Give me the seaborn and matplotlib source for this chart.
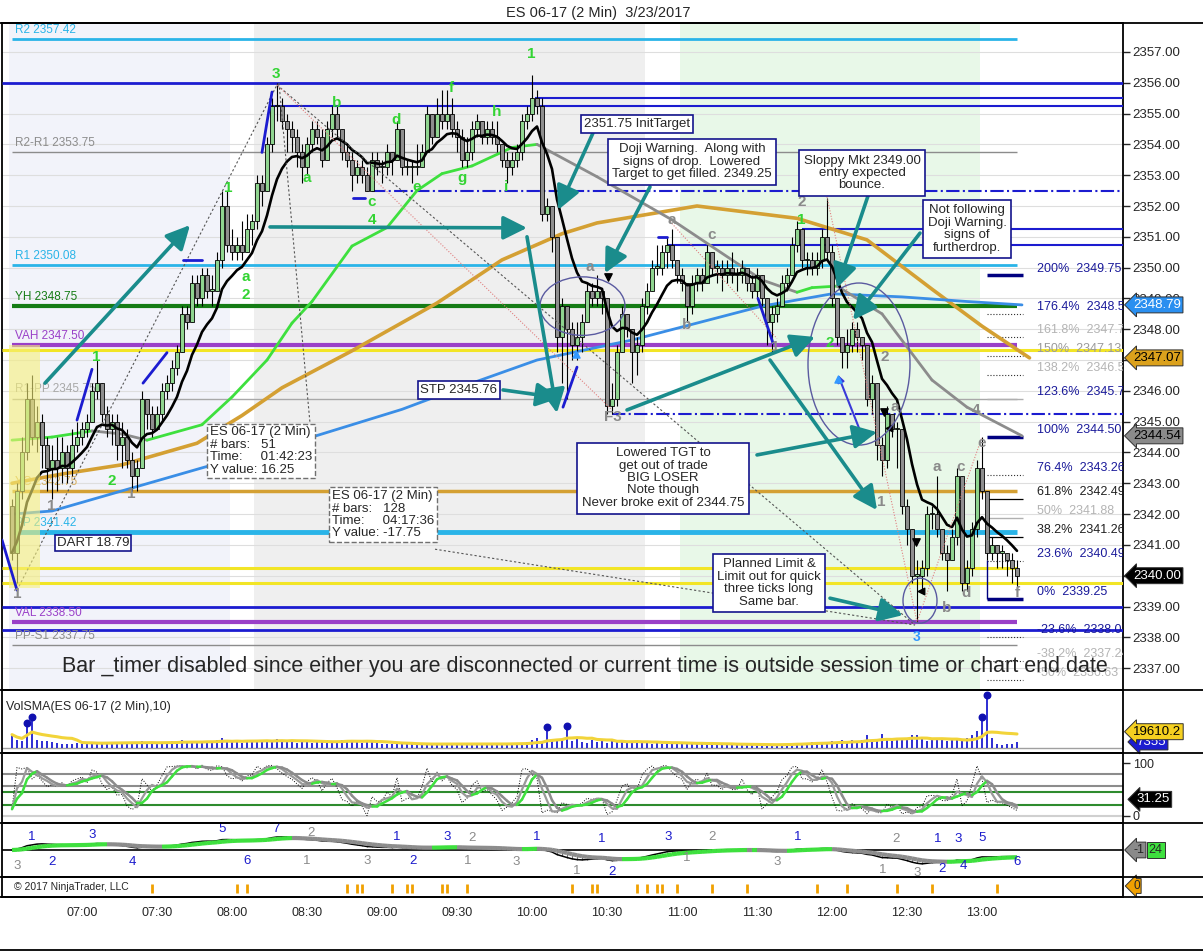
import numpy as np
import pandas as pd
import matplotlib
matplotlib.use("Agg")
import matplotlib.pyplot as plt
import seaborn as sns
from matplotlib.patches import Ellipse, Rectangle
from matplotlib.lines import Line2D

sns.set_style("white")
plt.rcParams["font.family"] = ["Liberation Sans", "DejaVu Sans"]

# ES 06-17, 2 minute bars, first bar 06:32
session_start = "06:32"
first_open = 2342.25
closes = [
    2340.75, 2342.75, 2344.0, 2345.75, 2344.5, 2345.0, 2344.25, 2343.5, 2343.75, 2343.5, 2344.0, 2343.5, 2344.25, 2344.5,
    2344.75, 2345.0, 2346.0, 2346.25, 2345.25, 2344.75, 2345.0, 2344.25, 2344.5, 2343.75, 2343.25, 2343.5, 2345.75, 2345.25, 2344.75,
    2345.25, 2346.0, 2346.25, 2346.75, 2347.25, 2348.5, 2348.25, 2349.5, 2349.0, 2349.75, 2349.25, 2349.25, 2350.25, 2352.0, 2350.75,
    2350.5, 2350.75, 2350.5, 2351.25, 2351.5, 2352.75, 2352.5, 2354.0, 2355.25, 2355.25, 2354.75, 2354.5, 2354.25, 2353.75, 2353.25,
    2354.0, 2354.5, 2354.25, 2353.5, 2354.5, 2355.0, 2354.5, 2353.75, 2353.5, 2353.0, 2353.25, 2353.0, 2352.5, 2353.5, 2353.25,
    2353.25, 2353.75, 2353.5, 2354.5, 2353.25, 2353.25, 2353.25, 2353.25, 2353.75, 2355.0, 2354.25, 2355.0, 2354.75, 2355.0, 2354.5,
    2354.25, 2353.5, 2353.75, 2354.5, 2354.75, 2354.25, 2354.5, 2354.25, 2354.0, 2353.5, 2353.25, 2353.5, 2353.75, 2354.75, 2355.0,
    2355.5, 2355.25, 2351.75, 2352.0, 2351.0, 2347.75, 2348.75, 2348.0, 2347.5, 2347.75, 2348.25, 2349.25, 2349.0, 2349.25, 2349.0,
    2345.5, 2345.75, 2347.25, 2348.5, 2348.0, 2347.25, 2347.5, 2348.75, 2349.25, 2350.0, 2350.0, 2350.5, 2350.75, 2350.25, 2349.75,
    2349.5, 2348.75, 2349.5, 2349.75, 2349.5, 2350.5, 2350.0, 2350.0, 2349.75, 2350.0, 2349.75, 2349.75, 2350.0, 2349.5, 2349.25,
    2349.75, 2349.0, 2348.25, 2348.5, 2348.75, 2349.5, 2349.75, 2350.75, 2351.25, 2350.25, 2350.25, 2350.0, 2350.25, 2351.0, 2350.5,
    2349.0, 2347.75, 2347.25, 2347.5, 2348.0, 2347.75, 2347.5, 2345.75, 2346.25, 2344.25, 2343.75, 2345.25, 2344.75, 2344.75, 2342.25,
    2341.5, 2340.0, 2340.0, 2340.25, 2342.0, 2342.0, 2341.5, 2340.75, 2340.5, 2341.25, 2343.25, 2339.75, 2340.25, 2341.5, 2343.5,
    2342.75, 2340.75, 2341.0, 2340.75, 2340.75, 2340.5, 2340.25, 2340.0,
]
highs = [
    2342.5, 2343.0, 2344.5, 2346.25, 2346.5, 2345.5, 2345.25, 2344.5, 2344.25, 2344.5, 2344.5, 2344.25, 2344.75, 2345.0,
    2345.0, 2345.25, 2346.25, 2347.0, 2346.25, 2345.5, 2345.25, 2345.25, 2345.0, 2344.75, 2344.0, 2343.75, 2346.0, 2345.75, 2345.5,
    2345.5, 2346.25, 2346.5, 2347.0, 2347.5, 2348.75, 2348.75, 2349.75, 2349.75, 2350.0, 2350.0, 2349.75, 2350.5, 2352.5, 2352.5,
    2351.25, 2351.0, 2351.5, 2351.75, 2351.75, 2353.0, 2353.0, 2354.25, 2355.5, 2356.0, 2355.5, 2355.0, 2354.75, 2354.5, 2354.0,
    2354.25, 2354.75, 2354.75, 2354.5, 2354.75, 2355.25, 2355.25, 2354.5, 2354.0, 2353.75, 2353.5, 2353.5, 2353.25, 2353.75, 2353.75,
    2353.5, 2354.0, 2353.75, 2354.75, 2354.5, 2353.5, 2353.5, 2354.0, 2354.0, 2355.25, 2355.0, 2355.5, 2355.75, 2355.75, 2355.5,
    2354.75, 2354.5, 2354.25, 2354.75, 2355.0, 2354.75, 2354.75, 2354.75, 2354.75, 2354.0, 2353.75, 2353.75, 2354.0, 2355.0, 2355.25,
    2356.25, 2355.75, 2355.5, 2352.25, 2352.0, 2351.0, 2349.0, 2348.75, 2348.25, 2348.25, 2348.5, 2349.5, 2349.5, 2349.75, 2349.25,
    2349.0, 2346.25, 2347.5, 2348.75, 2348.5, 2348.0, 2347.75, 2349.0, 2349.5, 2350.25, 2350.75, 2350.75, 2351.0, 2351.25, 2350.25,
    2350.0, 2349.5, 2349.75, 2350.0, 2350.0, 2350.75, 2350.5, 2350.25, 2350.25, 2350.25, 2350.5, 2350.0, 2350.25, 2350.0, 2349.75,
    2350.0, 2349.75, 2349.0, 2348.75, 2349.0, 2349.75, 2350.0, 2351.0, 2351.5, 2351.25, 2350.5, 2350.5, 2350.5, 2351.25, 2352.25,
    2350.75, 2349.0, 2347.75, 2348.0, 2348.25, 2348.25, 2347.75, 2347.5, 2346.5, 2346.25, 2344.5, 2345.5, 2345.25, 2345.0, 2344.75,
    2342.5, 2341.5, 2340.5, 2340.5, 2342.25, 2342.25, 2343.25, 2341.5, 2341.0, 2341.5, 2343.5, 2343.25, 2340.5, 2341.75, 2343.75,
    2344.5, 2342.75, 2341.25, 2341.0, 2341.0, 2340.75, 2340.75, 2340.5,
]
lows = [
    2340.5, 2339.75, 2342.5, 2343.75, 2344.25, 2344.0, 2343.5, 2342.75, 2342.5, 2342.75, 2343.0, 2343.0, 2343.25, 2344.0,
    2344.25, 2344.5, 2345.0, 2345.75, 2345.0, 2344.5, 2344.25, 2343.75, 2343.5, 2343.5, 2342.75, 2342.75, 2343.5, 2344.75, 2344.5,
    2344.75, 2345.0, 2345.75, 2346.0, 2346.5, 2347.25, 2348.0, 2348.25, 2348.75, 2348.75, 2349.0, 2348.75, 2349.25, 2350.0, 2350.5,
    2350.25, 2350.25, 2350.25, 2350.5, 2350.75, 2351.25, 2352.0, 2352.5, 2353.75, 2354.75, 2354.5, 2353.75, 2353.75, 2353.25, 2352.75,
    2353.0, 2353.75, 2354.0, 2353.25, 2353.5, 2354.25, 2354.25, 2353.5, 2353.25, 2352.5, 2352.75, 2352.75, 2352.5, 2352.5, 2353.0,
    2352.75, 2353.0, 2353.0, 2353.5, 2353.0, 2353.0, 2352.75, 2353.0, 2353.25, 2353.75, 2354.0, 2354.25, 2354.5, 2354.5, 2354.25,
    2353.75, 2353.25, 2353.25, 2353.5, 2354.25, 2354.0, 2354.0, 2354.0, 2353.75, 2353.25, 2352.75, 2353.0, 2353.25, 2353.5, 2354.5,
    2354.75, 2355.0, 2351.5, 2351.5, 2350.5, 2347.25, 2346.25, 2345.75, 2347.0, 2347.0, 2347.25, 2348.25, 2348.75, 2348.75, 2348.5,
    2345.25, 2345.25, 2345.5, 2347.25, 2347.75, 2346.25, 2346.5, 2347.25, 2348.5, 2349.25, 2349.75, 2349.75, 2350.0, 2350.0, 2349.5,
    2349.25, 2348.25, 2348.5, 2349.25, 2349.25, 2349.5, 2349.75, 2349.5, 2349.25, 2349.5, 2349.5, 2349.25, 2349.5, 2349.25, 2349.0,
    2349.0, 2348.75, 2347.5, 2347.25, 2348.25, 2348.75, 2349.25, 2349.75, 2350.5, 2350.0, 2349.75, 2349.75, 2349.75, 2350.0, 2350.25,
    2348.75, 2347.5, 2346.75, 2346.75, 2347.25, 2347.25, 2347.0, 2345.5, 2345.25, 2343.75, 2343.25, 2343.5, 2344.5, 2343.5, 2342.0,
    2341.0, 2339.75, 2338.5, 2339.5, 2340.0, 2341.5, 2341.25, 2340.5, 2339.5, 2340.5, 2341.0, 2339.5, 2339.5, 2340.0, 2341.25,
    2342.5, 2340.5, 2340.5, 2340.25, 2340.25, 2340.0, 2339.75, 2339.5,
]
# volume per bar, thousands of contracts
volumes = [
    16, 10, 8, 27, 35,
    9, 8, 8, 7, 6, 5, 4, 5, 6, 5,
    6, 7, 5, 6, 7, 5, 6, 6, 7, 5, 6, 8, 5, 7, 5,
    6, 7, 8, 6, 9, 7, 8, 6, 7, 8, 6, 9, 12, 8, 7,
    9, 6, 8, 7, 9, 8, 10, 9, 11, 8, 7, 9, 6, 7, 8,
    6, 7, 8, 9, 6, 8, 9, 10, 8, 7, 6, 8, 7, 6, 5,
    5, 4, 5, 4, 5, 4, 4, 5, 4, 4, 5, 4, 4, 5, 4,
    4, 5, 4, 5, 4, 5, 5, 4, 5, 4, 5, 5, 6, 7, 9,
    12, 8, 22, 11, 10, 9, 23, 8, 11, 7, 6, 9, 7, 8, 6,
    9, 7, 8, 6, 7, 8, 6, 7, 5, 6, 5, 6, 5, 6, 5,
    6, 5, 4, 5, 4, 5, 4, 4, 5, 4, 3, 4, 3, 4, 3,
    4, 3, 4, 4, 5, 4, 5, 6, 5, 6, 7, 6, 5, 6, 8,
    7, 9, 6, 10, 8, 9, 16, 8, 9, 17, 10, 8, 11, 12, 9,
    16, 15, 11, 8, 9, 10, 9, 8, 10, 9, 8, 12, 15, 20, 35,
    62, 12, 5, 3, 4, 5, 7,
]

# longer moving averages: (bar index, price)
ma_green_k = [0, 8, 16, 22, 27, 38, 44, 51, 56, 60, 68, 75, 81, 86, 92, 100, 105, 117, 132, 150, 157, 160, 165, 174, 184, 191, 202]
ma_green_v = [2344.4, 2344.5, 2344.7, 2344.6, 2344.4, 2344.9, 2345.8, 2347.0, 2348.2, 2348.9, 2350.7, 2351.3, 2352.5, 2353.05,
              2353.3, 2353.9, 2354.0, 2352.95, 2351.55, 2349.6, 2349.2, 2349.35, 2349.4, 2348.5, 2346.35, 2345.47, 2344.54]
ma_orange_k = [0, 10, 22, 37, 46, 54, 68, 85, 98, 110, 117, 137, 157, 171, 184, 194, 203.5]
ma_orange_v = [2343.0, 2343.3, 2343.6, 2344.3, 2345.2, 2346.1, 2347.3, 2348.85, 2350.25, 2351.1, 2351.45, 2352.0, 2351.6,
               2350.9, 2349.3, 2348.1, 2347.07]
ma_blue_k = [0, 8, 23, 38, 60, 78, 92, 105, 124, 137, 150, 164, 178, 191, 202]
ma_blue_v = [2342.0, 2342.1, 2342.8, 2343.5, 2344.5, 2345.4, 2346.25, 2347.0, 2347.65, 2348.2, 2348.75, 2349.15, 2349.05,
             2348.9, 2348.79]

# labelled pivot / value-area levels
lvl_price = [2357.42, 2353.75, 2350.08, 2348.75, 2347.50, 2345.75, 2342.75, 2341.42, 2338.50, 2337.75]
lvl_label = ["R2 2357.42", "R2-R1 2353.75", "R1 2350.08", "YH 2348.75", "VAH 2347.50", "R1-PP 2345.75",
             "YC 2342.75", "PP 2341.42", "VAL 2338.50", "PP-S1 2337.75"]
lvl_color = ["#2ab4e8", "#8c8c8c", "#2ab4e8", "#157c15", "#9a40c8", "#a8a8a8", "#d4a033", "#2ab4e8", "#9a40c8", "#8c8c8c"]
lvl_text_color = ["#2ab4e8", "#8c8c8c", "#2ab4e8", "#157c15", "#9a40c8", "#a8a8a8", "#d8b060", "#2ab4e8", "#9a40c8", "#8c8c8c"]
lvl_width = [2, 1, 2, 3, 3, 1, 2.5, 3.5, 3, 1]

# blue drawn lines (price, first bar, style)
blue_price = [2356.0, 2355.5, 2355.25, 2352.5, 2351.25, 2350.75, 2345.25, 2339.0, 2338.25]
blue_start = [-2, 104.5, 51.6, 72, 158, 131, 120, -2, -2]
blue_style = ["-", "-", "-", "-.", "-", "-", "-.", "-", "-"]
blue_width = [2, 1.5, 1.5, 1.5, 1.5, 1.5, 1.5, 2, 2]

yellow_price = [2347.33, 2340.25, 2339.75]
yellow_end = [222.2, 201, 222.2]

# fibonacci extension from 2339.25 to 2344.50
fib_pct = ["200%", "176.4%", "161.8%", "150%", "138.2%", "123.6%", "100%", "76.4%", "61.8%", "50%",
           "38.2%", "23.6%", "0%", "-23.6%", "-38.2%", "-50%"]
fib_val = [2349.75, 2348.51, 2347.74, 2347.13, 2346.51, 2345.74, 2344.50, 2343.26, 2342.49, 2341.88,
           2341.26, 2340.49, 2339.25, 2338.01, 2337.24, 2336.63]
fib_color = ["#1a1a9a", "#1a1a9a", "#b4b4b4", "#9a9a9a", "#b4b4b4", "#1a1a9a", "#1a1a9a", "#1a1a9a", "#202020", "#b4b4b4",
             "#202020", "#1a1a9a", "#1a1a9a", "#1a1a9a", "#b4b4b4", "#b4b4b4"]
fib_line = ["thick", ":", ":", ":", ":", "-", "thick", ":", "k", "-", "k", ":", "thick", ":", ":", ":"]

# wave labels on the price panel: (bar, price, text)
green_lbl = [(52.8, 2356.3, "3"), (43.2, 2352.6, "1"), (46.8, 2349.7, "a"), (46.8, 2349.1, "2"), (16.8, 2347.1, "1"),
             (20, 2343.07, "2"), (58.9, 2352.9, "a"), (64.9, 2355.33, "b"), (71.9, 2352.14, "c"), (71.9, 2351.55, "4"),
             (76.9, 2354.79, "d"), (80.9, 2352.63, "e"), (87.9, 2355.82, "f"), (89.9, 2352.9, "g"), (96.9, 2355.06, "h"),
             (98.9, 2352.63, "i"), (103.9, 2356.95, "1"), (157.9, 2351.55, "1"), (163.6, 2347.55, "2")]
gray_lbl = [(1, 2339.4, "1"), (7.9, 2342.26, "1"), (23.9, 2342.66, "1"), (115.6, 2350.03, "a"), (120.2, 2345.16, "F3"),
            (131.9, 2351.55, "a"), (139.9, 2351.06, "c"), (134.9, 2348.14, "b"), (157.9, 2352.14, "2"), (152.6, 2347.43, "1"),
            (174.6, 2347.1, "2"), (176.6, 2345.48, "a"), (192.8, 2345.38, "4"), (173.9, 2342.4, "1"), (184.9, 2343.54, "a"),
            (189.8, 2343.54, "c"), (193.9, 2344.3, "e"), (190.9, 2339.43, "d"), (186.9, 2338.94, "b"), (201, 2339.43, "f")]

# wave counts on the macd panel: (bar, height in panel, text, is_blue)
macd_lbl = [(4, 0.75, "1", 1), (16, 0.77, "3", 1), (42, 0.88, "5", 1), (52.8, 0.88, "7", 1), (59.8, 0.82, "2", 0),
            (77, 0.75, "1", 1), (87, 0.75, "3", 1), (92, 0.72, "2", 0), (105, 0.75, "1", 1), (118, 0.70, "1", 1),
            (131.2, 0.75, "3", 1), (140, 0.75, "2", 0), (157.2, 0.75, "1", 1), (176.8, 0.70, "2", 0), (185.2, 0.70, "1", 1),
            (189.2, 0.70, "3", 1), (194, 0.72, "5", 1),
            (1, 0.2, "3", 0), (8, 0.27, "2", 1), (24, 0.27, "4", 1), (47, 0.3, "6", 1), (59, 0.3, "1", 0), (71, 0.3, "3", 0),
            (80.2, 0.3, "2", 1), (91.2, 0.3, "1", 0), (100.8, 0.27, "3", 0), (113, 0.12, "1", 0), (120, 0.1, "2", 1),
            (135, 0.35, "1", 0), (153, 0.27, "3", 0), (174.2, 0.13, "1", 0), (181, 0.08, "3", 0), (186, 0.14, "2", 1),
            (190.2, 0.2, "4", 1), (201, 0.28, "6", 1)]

# trade markers in the bottom strip (bar index)
marks_k = [28, 45, 47, 67, 69, 70, 76, 79, 80, 86, 87, 91, 112, 116, 117, 125, 127, 129, 130, 133, 140, 147, 161, 167, 177, 184, 197]

time_labels = ["07:00", "07:30", "08:00", "08:30", "09:00", "09:30", "10:00", "10:30", "11:00", "11:30", "12:00", "12:30", "13:00"]

# ---------------------------------------------------------------
W, H = 1203, 952
XMIN, XMAX = -2, 222.2
UP, DOWN = "#8fd48f", "#8e8e8e"
TEAL, NAVY = "#1a8c8c", "#1c1cd0"


def rect(x0, y0, x1, y1):
    return [x0 / W, 1 - y1 / H, (x1 - x0) / W, (y1 - y0) / H]


def to_min(s):
    h, m = s.split(":")
    return int(h) * 60 + int(m)


n = len(closes)
df = pd.DataFrame({"k": np.arange(n), "open": [first_open] + closes[:-1], "high": highs, "low": lows,
                   "close": closes, "vol": volumes})
df["ema"] = df.close.ewm(span=10, adjust=False).mean()

fig = plt.figure(figsize=(W / 100, H / 100), dpi=100)
ax = fig.add_axes(rect(2, 23, 1123, 690))
ax_vol = fig.add_axes(rect(2, 690, 1123, 753))
ax_sto = fig.add_axes(rect(2, 753, 1123, 823))
ax_macd = fig.add_axes(rect(2, 823, 1123, 877))
ax_mk = fig.add_axes(rect(2, 877, 1123, 897))
for a in (ax, ax_vol, ax_sto, ax_macd, ax_mk):
    a.set_xlim(XMIN, XMAX)
    a.set_xticks([])
    a.set_yticks([])
    for s in a.spines.values():
        s.set_color("black")
        s.set_linewidth(1.3)

fig.text(598 / W, 1 - 13 / H, "ES 06-17 (2 Min)  3/23/2017", ha="center", va="center", fontsize=10.5)

# ---------------- price panel ----------------
ax.set_ylim(2336.29, 2357.94)
ax.axvspan(-0.6, 43.6, color="#f2f3fa", zorder=0, lw=0)
ax.axvspan(48.4, 126.6, color="#efefef", zorder=0, lw=0)
ax.axvspan(133.6, 193.6, color="#e8f8e8", zorder=0, lw=0)
for p in range(2337, 2358):
    ax.axhline(p, color="#dedede", lw=0.8, zorder=1)

for p, lab, c, tc, lw in zip(lvl_price, lvl_label, lvl_color, lvl_text_color, lvl_width):
    ax.hlines(p, 0, 201, color=c, lw=lw, zorder=6)
    ax.text(0.6, p + 0.1, lab, color=tc, fontsize=8.5, va="bottom", ha="left", zorder=6.5, clip_on=True)
for p, k0, ls, lw in zip(blue_price, blue_start, blue_style, blue_width):
    ax.hlines(p, k0, XMAX, color=NAVY, lw=lw, linestyles=ls, zorder=6)
for p, k1 in zip(yellow_price, yellow_end):
    ax.hlines(p, XMIN, k1, color="#f2e526", lw=2.2, zorder=6)

# fib block on the right
for pct, v, c, st in zip(fib_pct, fib_val, fib_color, fib_line):
    if st == "thick":
        ax.hlines(v, 195, 202.2, color="#000080", lw=2.5, zorder=6)
    elif st == "k":
        ax.hlines(v, 195, 202.2, color="black", lw=0.9, zorder=6)
    elif st == "-":
        ax.hlines(v, 195, 202.2, color="#b0b0b0", lw=1, zorder=6)
    else:
        ax.hlines(v, 195, 202.2, color="#303030", lw=0.8, linestyles=":", zorder=6)
    ax.text(205, v + 0.22, f"{pct}  {v:.2f}", color=c, fontsize=9, va="center", ha="left", clip_on=True, zorder=6)
ax.vlines(195, 2339.25, 2340.5, color="#000080", lw=1, zorder=6)

# moving averages
ax.plot(ma_orange_k, ma_orange_v, color="#d4a033", lw=2.6, zorder=6.5, solid_capstyle="round")
ax.plot(ma_blue_k, ma_blue_v, color="#3a8ee6", lw=2, zorder=6.5)
for i in range(len(ma_green_k) - 1):
    c = "#3ee03e" if ma_green_v[i + 1] >= ma_green_v[i] else "#8c8c8c"
    ax.plot(ma_green_k[i:i + 2], ma_green_v[i:i + 2], color=c, lw=2, zorder=6.5, solid_capstyle="round")

# candles
up = df.close >= df.open
body = (df.close - df.open).abs().clip(lower=0.04)
ax.vlines(df.k, df.low, df.high, color="black", lw=0.8, zorder=7)
ax.bar(df.k[up], body[up], bottom=df.open[up], width=0.72, color=UP, edgecolor="black", lw=0.6, zorder=7.5)
ax.bar(df.k[~up], body[~up], bottom=df.close[~up], width=0.72, color=DOWN, edgecolor="black", lw=0.6, zorder=7.5)
sns.lineplot(data=df, x="k", y="ema", ax=ax, color="black", lw=1.9, zorder=8)
ax.set_xlabel("")
ax.set_ylabel("")

# opening range highlight
ax.add_patch(Rectangle((-0.6, 2339.6), 6.2, 7.9, color="#f6f07a", alpha=0.6, lw=0, zorder=8.5))

# zigzag / drawing lines
ax.plot([1, 53], [2339.53, 2355.93], color="#555555", lw=0.8, ls=(0, (2, 2)), zorder=8)
ax.plot([53.4, 59.6], [2355.99, 2344.95], color="#555555", lw=0.8, ls=(0, (2, 2)), zorder=8)
ax.plot([53, 180.6], [2355.93, 2338.4], color="#555555", lw=0.8, ls=(0, (2, 2)), zorder=8)
ax.plot([84.6, 180.6], [2340.86, 2338.4], color="#555555", lw=0.8, ls=(0, (2, 2)), zorder=8)
ax.plot([53, 120], [2355.93, 2345.38], color="#e08080", lw=0.8, ls=(0, (1, 1.5)), zorder=8)
ax.plot([131.6, 153], [2351.5, 2347.7], color="#e08080", lw=0.8, ls=(0, (1, 1.5)), zorder=8)
ax.plot([163, 181, 194], [2352.3, 2338.5, 2344.5], color="#e08080", lw=0.8, ls=(0, (1, 1.5)), zorder=8)

# short blue trend strokes
for (a0, p0, a1, p1) in [(-2, 2341.16, 1, 2339.53), (13, 2345.05, 16, 2346.7), (26.2, 2346.25, 31, 2347.24),
                         (50, 2353.74, 52, 2355.7), (34.2, 2350.26, 38, 2350.26), (68.2, 2352.26, 70.6, 2352.26),
                         (113, 2346.77, 110.2, 2345.47), (149.2, 2349.0, 152.2, 2347.55), (129.2, 2351.0, 131, 2351.0)]:
    ax.plot([a0, a1], [p0, p1], color=NAVY, lw=2, zorder=8.6)
ax.annotate("", xy=(165, 2346.6), xytext=(170.6, 2344.3),
            arrowprops=dict(arrowstyle="-|>", color="#3a3ad8", lw=1.5, mutation_scale=10), zorder=9)

# small markers
ax.scatter([119.2, 174.4, 180.8], [2349.7, 2345.3, 2341.1], marker="v", s=28, color="black", zorder=9)
ax.scatter([175.4, 181.8], [2344.8, 2339.5], marker="<", s=22, color="black", zorder=9)
ax.scatter([112.8, 165.1], [2347.2, 2346.4], marker="^", s=26, color="#3399ff", zorder=9)

# ellipses
for (ck, cp, w, h) in [(114.1, 2348.75, 17, 1.9), (169.4, 2346.87, 20.4, 5.26), (181.6, 2339.19, 6.8, 1.46)]:
    ax.add_patch(Ellipse((ck, cp), w, h, fill=False, ec="#5a5aa0", lw=1, zorder=9))

# wave labels
for kx, p, t in green_lbl:
    ax.text(kx, p, t, color="#33d433", fontsize=11, fontweight="bold", ha="center", va="center", zorder=9)
for kx, p, t in gray_lbl:
    ax.text(kx, p, t, color="#8a8a8a", fontsize=11, fontweight="bold", ha="center", va="center", zorder=9)
ax.text(180.9, 2338.0, "3", color="#3399ff", fontsize=10, fontweight="bold", ha="center", va="center", zorder=9)

# teal arrows
for (a0, p0, a1, p1) in [(6.6, 2346.25, 35.6, 2351.38), (51.6, 2351.32, 103, 2351.29), (103, 2351.0, 109, 2345.28),
                         (98.2, 2346.03, 109.6, 2345.77), (116.2, 2354.37, 109.2, 2351.87), (127.6, 2352.62, 118.6, 2349.82),
                         (123, 2345.38, 160.6, 2347.75), (151.6, 2347.0, 173, 2342.13), (149, 2343.92, 173, 2344.66),
                         (171.6, 2352.52, 165, 2349.34), (181.6, 2351.12, 168.2, 2348.3), (163.6, 2339.27, 178.2, 2338.72)]:
    ax.annotate("", xy=(a1, p1), xytext=(a0, p0),
                arrowprops=dict(arrowstyle="-|>,head_length=0.9,head_width=0.45", color=TEAL, lw=2.6,
                                mutation_scale=16, shrinkA=0, shrinkB=0), zorder=9.5)

# note boxes
note = dict(boxstyle="square,pad=0.35", fc="white", ec="#14148c", lw=1.2)
ax.text(125, 2354.66, "2351.75 InitTarget", fontsize=9.5, ha="center", va="center",
        bbox=dict(boxstyle="square,pad=0.25", fc="white", ec="#14148c", lw=1.2), zorder=10)
ax.text(136, 2353.43, "Doji Warning.  Along with\nsigns of drop.  Lowered\nTarget to get filled. 2349.25",
        fontsize=9.5, ha="center", va="center", bbox=note, zorder=10, linespacing=1.05)
ax.text(170, 2353.07, "Sloppy Mkt 2349.00\nentry expected\nbounce.", fontsize=9.5, ha="center", va="center",
        bbox=note, zorder=10, linespacing=1.05)
ax.text(191, 2351.25, "Not following\nDoji Warning.\nsigns of\nfurtherdrop.", fontsize=9.5, ha="center",
        va="center", bbox=note, zorder=10, linespacing=1.05)
ax.text(89.4, 2346.03, "STP 2345.76", fontsize=9.5, ha="center", va="center",
        bbox=dict(boxstyle="square,pad=0.2", fc="white", ec="#14148c", lw=1.2), zorder=10)
ax.text(130.2, 2343.17, "Lowered TGT to\nget out of trade\nBIG LOSER\nNote though\nNever broke exit of 2344.75",
        fontsize=9.5, ha="center", va="center", bbox=note, zorder=10, linespacing=1.05)
ax.text(151.4, 2339.76, "Planned Limit &\nLimit out for quick\nthree ticks long\nSame bar.", fontsize=9.5,
        ha="center", va="center", bbox=note, zorder=10, linespacing=1.05)
ax.text(16.2, 2341.06, "DART 18.79", fontsize=9.5, ha="center", va="center",
        bbox=dict(boxstyle="square,pad=0.12", fc="white", ec="#14148c", lw=1.2), zorder=10)
dash = dict(boxstyle="square,pad=0.2", fc="white", ec="#707070", lw=1, ls="--")
ax.text(39.6, 2344.85, "ES 06-17 (2 Min)\n# bars:   51\nTime:     01:42:23\nY value: 16.25", fontsize=9.5,
        ha="left", va="top", bbox=dash, zorder=10, linespacing=1.05)
ax.text(64, 2342.78, "ES 06-17 (2 Min)\n# bars:   128\nTime:     04:17:36\nY value: -17.75", fontsize=9.5,
        ha="left", va="top", bbox=dash, zorder=10, linespacing=1.05)

ax.text(10, 2337.05, "Bar _timer disabled since either you are disconnected or current time is outside session time "
        "or chart end date", fontsize=15.5, ha="left", va="center", zorder=11)

# price axis on the right (2347.00 sits under the orange flag)
ax.yaxis.tick_right()
ax.set_yticks(range(2337, 2358))
ax.set_yticklabels(["" if v == 2347 else f"{v:.2f}" for v in range(2337, 2358)])
ax.tick_params(axis="y", right=True, length=5, width=1, direction="out", labelsize=9.5, pad=2)


def flag(a, y, text, fc, tc="black", x=1.009, fs=9.5):
    a.text(x, y, text, transform=a.get_yaxis_transform(), ha="left", va="center", fontsize=fs, color=tc,
           clip_on=False, zorder=20, bbox=dict(boxstyle="larrow,pad=0.15", fc=fc, ec="#303030", lw=0.7))


flag(ax, ma_blue_v[-1], f"{ma_blue_v[-1]:.2f}", "#2a8ff0", "white")
flag(ax, ma_orange_v[-1], f"{ma_orange_v[-1]:.2f}", "#dba11c")
flag(ax, ma_green_v[-1], f"{ma_green_v[-1]:.2f}", "#8a8a8a")
flag(ax, closes[-1], f"{closes[-1]:.2f}", "black", "white")

# ---------------- volume panel ----------------
df["vsma"] = df.vol.rolling(10, min_periods=1).mean()
ax_vol.set_ylim(-6.6, 70.9)
ax_vol.axhline(0, color="#a0a0a0", lw=1)
ax_vol.vlines(df.k, 0, df.vol, color=NAVY, lw=1.3)
sns.lineplot(data=df, x="k", y="vsma", ax=ax_vol, color="#f2d43a", lw=2.2, zorder=3)
spike = df.vol > 2.2 * df.vsma.shift(1)
ax_vol.scatter(df.k[spike], df.vol[spike] + 3, s=22, color="#1010b0", zorder=4)
ax_vol.set_xlabel("")
ax_vol.set_ylabel("")
ax_vol.text(-1.2, 50, "VolSMA(ES 06-17 (2 Min),10)", fontsize=9, va="center", ha="left")
flag(ax_vol, df.vol.iloc[-1], "7355", NAVY, "white", x=1.012)
flag(ax_vol, 19.61, "19610.2", "#f5d020", x=1.009)

# ---------------- stochastics ----------------
ll = df.low.rolling(14, min_periods=1).min()
hh = df.high.rolling(14, min_periods=1).max()
df["sto_raw"] = 100 * (df.close - ll) / (hh - ll)
df["sto_k"] = df.sto_raw.rolling(3, min_periods=1).mean()
df["sto_d"] = df.sto_k.rolling(3, min_periods=1).mean()
ax_sto.set_ylim(-14, 120)
for v, c in [(80, "#8c8c8c"), (57, "#8c8c8c"), (46, "#2e8b2e"), (21, "#2e8b2e"), (0, "#d0d0d0")]:
    ax_sto.axhline(v, color=c, lw=1.5)
sns.lineplot(data=df, x="k", y="sto_raw", ax=ax_sto, color="black", lw=0.7, ls=":", zorder=3)
sns.lineplot(data=df, x="k", y="sto_k", ax=ax_sto, color="#9a9a9a", lw=1.6, zorder=3)
d = df.sto_d.values
for i in range(n - 1):
    c = "#3ee03e" if d[i + 1] >= d[i] else "#8c8c8c"
    ax_sto.plot([i, i + 1], d[i:i + 2], color=c, lw=1.8, zorder=4)
ax_sto.set_xlabel("")
ax_sto.set_ylabel("")
ax_sto.yaxis.tick_right()
ax_sto.set_yticks([0, 100])
ax_sto.set_yticklabels(["0", "100"])
ax_sto.tick_params(axis="y", right=True, length=5, width=1, direction="out", labelsize=9, pad=2)
flag(ax_sto, 31.25, "31.25", "black", "white", x=1.012)

# ---------------- macd ----------------
macd = df.close.ewm(span=12, adjust=False).mean() - df.close.ewm(span=26, adjust=False).mean()
sig = macd.ewm(span=9, adjust=False).mean()
lim = macd.abs().max() * 1.95
ax_macd.set_ylim(-lim, lim)
ax_macd.axhline(0, color="black", lw=1.2)
ax_macd.vlines(df.k, sig, macd, color=np.where(macd > sig, "#40d040", "#707070"), lw=0.8)
ax_macd.plot(df.k, macd, color="black", lw=1.1)
sv = sig.values
for i in range(n - 1):
    c = "#3ee03e" if sv[i + 1] >= sv[i] else "#8c8c8c"
    ax_macd.plot([i, i + 1], sv[i:i + 2], color=c, lw=3, zorder=3, solid_capstyle="butt")
tr = ax_macd.get_xaxis_transform()
for kx, yf, t, blue in macd_lbl:
    ax_macd.text(kx, yf, t, transform=tr, fontsize=9.5, ha="center", va="center",
                 color="#1a1acc" if blue else "#8a8a8a")
ax_macd.text(1.009, 0.5, "-1", transform=ax_macd.transAxes, fontsize=9, ha="left", va="center", clip_on=False,
             bbox=dict(boxstyle="larrow,pad=0.15", fc="#8a8a8a", ec="#303030", lw=0.7))
ax_macd.text(1.023, 0.5, "24", transform=ax_macd.transAxes, fontsize=9, ha="left", va="center", clip_on=False,
             bbox=dict(boxstyle="square,pad=0.15", fc="#3ee03e", ec="#303030", lw=0.7))

# ---------------- trade marks + time axis ----------------
ax_mk.set_ylim(0, 1)
ax_mk.vlines(marks_k, 0.21, 0.63, color="#f0a000", lw=2)
ax_mk.text(0.3, 0.5, "\u00a9 2017 NinjaTrader, LLC", fontsize=7.5, ha="left", va="center")
ax_mk.text(1.009, 0.55, "0", transform=ax_mk.transAxes, fontsize=8.5, ha="left", va="center", clip_on=False,
           bbox=dict(boxstyle="larrow,pad=0.12", fc="#f0a000", ec="#303030", lw=0.7))
t0 = to_min(session_start)
ax_mk.set_xticks([(to_min(t) - t0) / 2 for t in time_labels])
ax_mk.set_xticklabels(time_labels)
ax_mk.tick_params(axis="x", bottom=True, length=0, labelsize=9, pad=7)

# panel separators across full width
for ypx in [23, 690, 753, 823, 877, 897, 950]:
    fig.add_artist(Line2D([0, 1], [1 - ypx / H, 1 - ypx / H], transform=fig.transFigure, color="black", lw=1.3))

fig.savefig("out.png", dpi=100)
